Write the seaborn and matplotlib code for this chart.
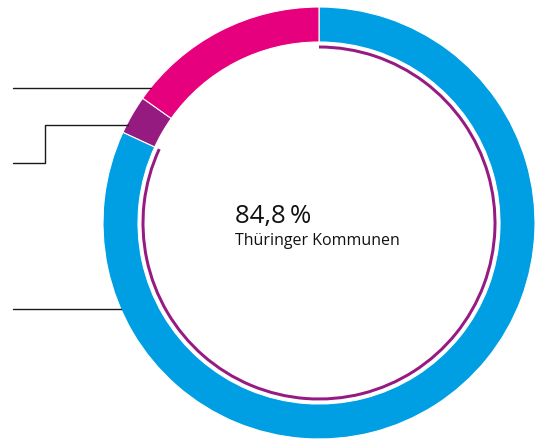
import matplotlib
matplotlib.use("Agg")
import matplotlib.pyplot as plt
import seaborn as sns

sns.set_theme(style="white")
plt.rcParams['font.family'] = ['Open Sans', 'DejaVu Sans']

# data
segments = ["Thüringer Kommunen", "Sonstige", "Land"]
shares = [81.9, 2.9, 15.2]
colors = ["#009FE3", "#951B81", "#E6007E"]
center_value = "84,8\u2009%"
center_label = "Thüringer Kommunen"
inner_share = [81.9, 18.1]

W, H = 536, 441
fig = plt.figure(figsize=(W / 100, H / 100), dpi=100)
ax = fig.add_axes([0, 0, 1, 1])
ax.set_xlim(0, W)
ax.set_ylim(0, H)
ax.set_aspect("equal")
ax.axis("off")

cx, cy = 319, H - 223
R = 216

ax.pie(shares, colors=colors, startangle=90, counterclock=False,
       center=(cx, cy), radius=R, frame=True,
       wedgeprops=dict(width=35, edgecolor="white", linewidth=0.8))
ax.pie(inner_share, colors=["#951B81", "none"], startangle=90, counterclock=False,
       center=(cx, cy), radius=177.5, frame=True,
       wedgeprops=dict(width=3, linewidth=0))
ax.set_xlim(0, W)
ax.set_ylim(0, H)
ax.axis("off")

# leader lines
lc = "#1a1a1a"
ax.plot([13, 151], [H - 88, H - 88], color=lc, lw=1)
ax.plot([13, 45, 45, 128], [H - 163, H - 163, H - 125, H - 125], color=lc, lw=1)
ax.plot([13, 121], [H - 309, H - 309], color=lc, lw=1)

ax.text(235, H - 223, center_value, fontsize=18.5, color="#111111",
        ha="left", va="baseline")
ax.text(235, H - 245, center_label, fontsize=11.5, color="#111111",
        ha="left", va="baseline")

fig.savefig("out.png", dpi=100)
